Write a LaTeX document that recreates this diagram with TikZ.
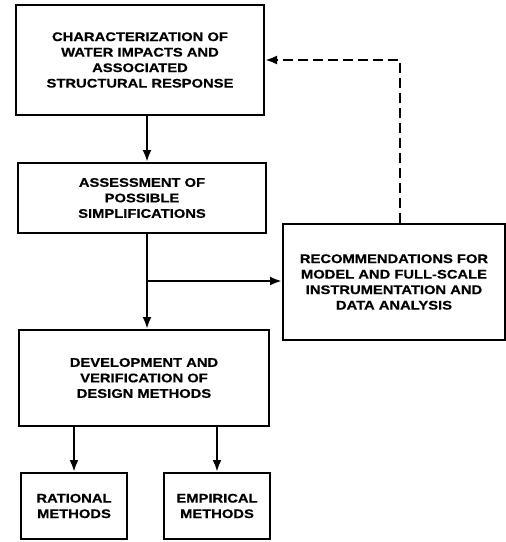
\documentclass[tikz,border=0pt]{standalone}
\usepackage{fontspec}
\newfontfamily\lbl{Liberation Sans}[FakeStretch=1.18,FakeBold=0.5]
\usetikzlibrary{arrows.meta}
\begin{document}
\begin{tikzpicture}[x=1pt,y=-1pt,
  box/.style={draw, line width=2pt, align=center, inner sep=0pt,
    font=\lbl\bfseries\fontsize{12.5}{15.5}\selectfont},
  arr/.style={line width=2.4pt, -{Latex[length=12pt,width=9pt]}},
  darr/.style={line width=2.4pt, dash pattern=on 10pt off 5pt, -{Latex[length=12pt,width=9pt]}}]
\useasboundingbox (0,0) rectangle (506,542);
\node[box, minimum width=248pt, minimum height=110pt] (b1) at (140,60)
  {CHARACTERIZATION OF\\WATER IMPACTS AND\\ASSOCIATED\\STRUCTURAL RESPONSE};
\node[box, minimum width=248pt, minimum height=70pt] (b2) at (142,198)
  {ASSESSMENT OF\\POSSIBLE\\SIMPLIFICATIONS};
\node[box, minimum width=222pt, minimum height=116pt] (rec) at (394,282)
  {RECOMMENDATIONS FOR\\MODEL AND FULL-SCALE\\INSTRUMENTATION AND\\DATA ANALYSIS};
\node[box, minimum width=250pt, minimum height=96pt] (b3) at (144,378)
  {DEVELOPMENT AND\\VERIFICATION OF\\DESIGN METHODS};
\node[box, minimum width=106pt, minimum height=66pt] (rat) at (74,506)
  {RATIONAL\\METHODS};
\node[box, minimum width=106pt, minimum height=66pt] (emp) at (217,506)
  {EMPIRICAL\\METHODS};
\coordinate (spine) at (147,0);
\coordinate (br) at (147,281);
\coordinate (dx) at (400,0);
\draw[arr] (b1.south -| spine) -- (b2.north -| spine);
\draw[arr] (b2.south -| spine) -- (b3.north -| spine);
\draw[arr] (br) -- (br -| rec.west);
\draw[darr] (rec.north -| dx) |- (b1.east);
\draw[arr] (rat.north |- b3.south) -- (rat.north);
\draw[arr] (emp.north |- b3.south) -- (emp.north);
\end{tikzpicture}
\end{document}
